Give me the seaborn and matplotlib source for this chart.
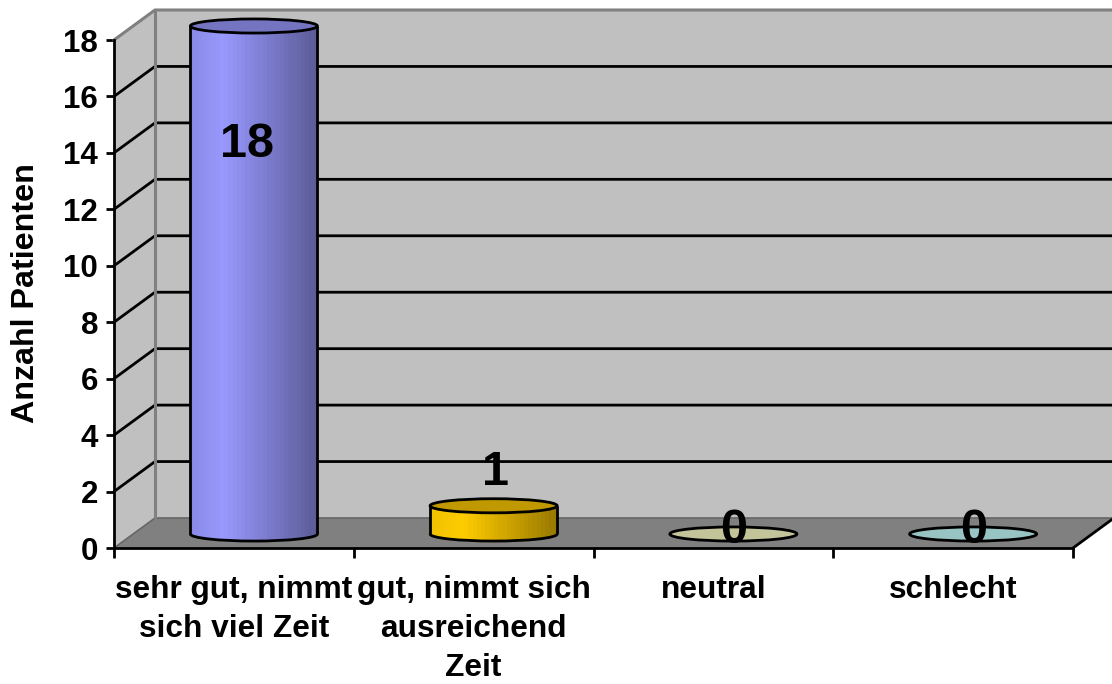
import numpy as np
import pandas as pd
import matplotlib
matplotlib.use("Agg")
import matplotlib.pyplot as plt
import seaborn as sns
from matplotlib.colors import LinearSegmentedColormap
from matplotlib.patches import Ellipse, Arc, Polygon
from matplotlib.transforms import Affine2D, IdentityTransform

categories = ["sehr gut, nimmt\nsich viel Zeit", "gut, nimmt sich\nausreichend\nZeit", "neutral", "schlecht"]
values = [18, 1, 0, 0]
y_ticks = [0, 2, 4, 6, 8, 10, 12, 14, 16, 18]
y_label = "Anzahl Patienten"

# style
side_light = ["#8a8ae6", "#f2c200", "#c4c49a", "#99c4c4"]
side_mid = ["#9999ff", "#ffcc00", "#c4c49a", "#99c4c4"]
side_dark = ["#5c5c99", "#997a00", "#c4c49a", "#99c4c4"]
top_colors = ["#7474c0", "#c09800", "#c4c49a", "#99c4c4"]
label_offsets = [-4.2, 1.17, 0.11, 0.11]
label_shift_x = [-5, 1, 0, 0]
W, H, DPI = 1112, 684, 100
LEFT, RIGHT, BASE, TOP = 114, 1073, 548, 40
DEPTH_X, DEPTH_Y = 41, 30
BAR_DX, BAR_DY = 20, 14
BAR_W = 0.53
ELL_H = 0.5
LW = 2.0
WALL = "#c0c0c0"
FLOOR = "#808080"
EDGE = "#808080"

sns.set_style("white")
plt.rcParams["font.family"] = ["Liberation Sans", "DejaVu Sans"]
plt.rcParams["font.weight"] = "bold"
plt.rcParams["text.color"] = "black"
plt.rcParams["xtick.color"] = "black"
plt.rcParams["ytick.color"] = "black"

fig = plt.figure(figsize=(W / DPI, H / DPI), dpi=DPI)
fig.patch.set_facecolor("white")


def make_axes(dx, dy):
    return fig.add_axes([(LEFT + dx) / W, (H - BASE + dy) / H, (RIGHT - LEFT) / W, (BASE - TOP) / H])


ax = make_axes(0, 0)
axb = make_axes(BAR_DX, BAR_DY)
for a in (ax, axb):
    a.set_xlim(-0.5, len(values) - 0.5)
    a.set_ylim(0, max(y_ticks))
    a.patch.set_visible(False)
ax.set_zorder(1)
axb.set_zorder(2)

# front-plane axes: ticks, labels
for s in ("top", "right"):
    ax.spines[s].set_visible(False)
for s in ("left", "bottom"):
    ax.spines[s].set_linewidth(LW)
    ax.spines[s].set_color("black")
    ax.spines[s].set_zorder(6)
ax.set_yticks(y_ticks)
ax.tick_params(axis="y", length=5.5, width=LW, color="black", labelcolor="black", pad=6, labelsize=22.5, left=True)
ax.set_xticks(range(len(values)))
ax.set_xticklabels(categories, fontsize=22.8, fontweight="bold", linespacing=1.4, color="black")
ax.set_xticks(np.arange(-0.5, len(values)), minor=True)
ax.tick_params(axis="x", which="major", length=0, pad=19.5)
ax.tick_params(axis="x", which="minor", length=7.5, width=LW, color="black", bottom=True)
for t in ax.get_yticklabels():
    t.set_fontweight("bold")
fig.text(26 / W, 1 - 293 / H, y_label, rotation=90, ha="center", va="center", fontsize=23.2, fontweight="bold",
         color="black")

# 3D walls, in display pixels derived from the front plane
fig.canvas.draw()
shift = Affine2D().translate(DEPTH_X, DEPTH_Y)
back = ax.transData + shift
x0, x1 = ax.get_xlim()
y0, y1 = ax.get_ylim()
P = ax.transData.transform
Q = back.transform
idt = IdentityTransform()
for pts, fc in [
    ([Q((x0, y0)), Q((x1, y0)), Q((x1, y1)), Q((x0, y1))], WALL),
    ([P((x0, y0)), Q((x0, y0)), Q((x0, y1)), P((x0, y1))], WALL),
    ([P((x0, y0)), P((x1, y0)), Q((x1, y0)), Q((x0, y0))], FLOOR),
]:
    ax.add_patch(Polygon(pts, closed=True, facecolor=fc, edgecolor="none", transform=idt, clip_on=False, zorder=0))
for v in y_ticks:
    color = EDGE if v in (y_ticks[0], y_ticks[-1]) else "black"
    lw = 2.2 if v == y_ticks[-1] else LW
    if v == y_ticks[0]:
        color, lw = "#666666", 1.2
    a, b, c = P((x0, v)), Q((x0, v)), Q((x1, v))
    ax.plot([a[0], b[0], c[0]], [a[1], b[1], c[1]], color=color, lw=lw, transform=idt, clip_on=False, zorder=1,
            solid_joinstyle="miter")
a, b = Q((x0, y0)), Q((x0, y1))
ax.plot([a[0], b[0]], [a[1], b[1]], color=EDGE, lw=2.2, transform=idt, clip_on=False, zorder=1.5)
a, b = P((x1, y0)), Q((x1, y0))
ax.plot([a[0], b[0]], [a[1], b[1]], color="black", lw=LW, transform=idt, clip_on=False, zorder=5)

# bars, on the plane half way into the depth
df = pd.DataFrame({"cat": categories, "value": values})
sns.barplot(data=df, x="cat", y="value", hue="cat", palette=side_mid, legend=False, width=BAR_W, ax=axb,
            order=categories, saturation=1, linewidth=0)
axb.set_xlim(-0.5, len(values) - 0.5)
axb.set_ylim(0, max(y_ticks))
axb.axis("off")

grad = np.linspace(0, 1, 30).reshape(1, -1)
for i, (bar, v) in enumerate(zip(axb.patches, values)):
    bx, bw = bar.get_x(), bar.get_width()
    cx = bx + bw / 2
    bar.set_clip_on(False)
    if v > 0:
        cmap = LinearSegmentedColormap.from_list(f"c{i}", [(0, side_light[i]), (0.25, side_mid[i]), (1, side_dark[i])])
        bottom = Ellipse((cx, 0), bw, ELL_H, facecolor="none", edgecolor="none", transform=axb.transData)
        axb.add_patch(bottom)
        bottom.set_clip_on(False)
        im = axb.imshow(grad, extent=[bx, bx + bw, 0, v], cmap=cmap, aspect="auto", zorder=2, origin="lower",
                        interpolation="nearest")
        im.set_clip_on(False)
        im2 = axb.imshow(grad, extent=[bx, bx + bw, -ELL_H, 0], cmap=cmap, aspect="auto", zorder=2, origin="lower",
                         interpolation="nearest")
        im2.set_clip_box(fig.bbox)
        im2.set_clip_path(bottom)
        axb.add_patch(Arc((cx, 0), bw, ELL_H, theta1=180, theta2=360, edgecolor="black", lw=LW, zorder=3, clip_on=False))
        axb.vlines([bx, bx + bw], 0, v, color="black", lw=LW, zorder=3, clip_on=False)
    axb.add_patch(Ellipse((cx, v), bw, ELL_H, facecolor=top_colors[i], edgecolor="black", lw=LW, zorder=4, clip_on=False))
    axb.annotate(str(v), xy=(cx, v + label_offsets[i]), xytext=(label_shift_x[i], 0), textcoords="offset points",
                 ha="center", va="center", fontsize=35, fontweight="bold", color="black", zorder=6, annotation_clip=False)
axb.set_xlim(-0.5, len(values) - 0.5)
axb.set_ylim(0, max(y_ticks))

fig.savefig("out.png", dpi=DPI)
